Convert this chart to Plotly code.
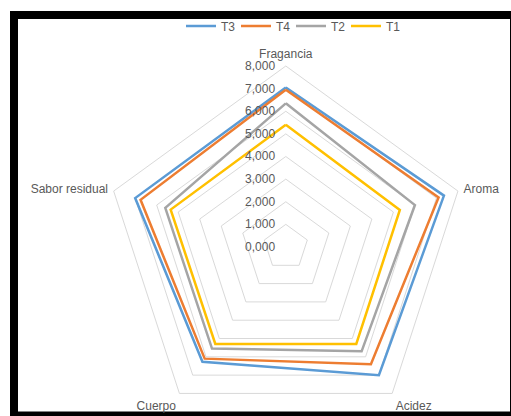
import plotly.graph_objects as go

categories = ["Fragancia", "Aroma", "Acidez", "Cuerpo", "Sabor residual"]
series_names = ["T3", "T4", "T2", "T1"]
t3 = [7.05, 7.35, 7.00, 6.27, 7.00]
t4 = [6.95, 7.10, 6.40, 6.10, 6.75]
t2 = [6.35, 6.00, 5.70, 5.55, 5.60]
t1 = [5.40, 5.30, 5.30, 5.30, 5.35]
colors = ["#5B9BD5", "#ED7D31", "#A5A5A5", "#FFC000"]
radial_ticks = [0, 1, 2, 3, 4, 5, 6, 7, 8]

W, H = 511, 446  # figure slightly taller than window; bottom part cropped
cx, cy, R = 285.8, 247.0, 181.0

fig = go.Figure()
for name, vals, col in zip(series_names, [t3, t4, t2, t1], colors):
    fig.add_trace(go.Scatterpolar(
        r=vals + vals[:1], theta=categories + categories[:1],
        mode="lines", name=name,
        line=dict(color=col, width=2.5),
    ))

def fx(px):
    return px / W

def fy(py):
    return (H - py) / H

fig.update_layout(
    width=W, height=H,
    margin=dict(l=0, r=0, t=0, b=0),
    paper_bgcolor="white",
    separators=",.",
    font=dict(family="Liberation Sans", size=12, color="#595959"),
    showlegend=True,
    legend=dict(orientation="h", x=fx(181), y=fy(26), xanchor="left", yanchor="middle",
                font=dict(size=12, color="#595959"), bgcolor="rgba(0,0,0,0)",
                itemwidth=30, entrywidth=10, entrywidthmode="pixels", tracegroupgap=0),
    polar=dict(
        domain=dict(x=[fx(cx - R), fx(cx + R)], y=[fy(cy + R), fy(cy - R)]),
        bgcolor="rgba(0,0,0,0)",
        gridshape="linear",
        radialaxis=dict(range=[0, 8], tickvals=radial_ticks, tickformat=".3f",
                        angle=90, side="counterclockwise", tickangle=90,
                        showline=False, ticks="outside", ticklen=6,
                        tickcolor="rgba(0,0,0,0)", gridcolor="#D9D9D9", gridwidth=1,
                        tickfont=dict(size=12, color="#595959")),
        angularaxis=dict(rotation=90, direction="clockwise", showgrid=False,
                         showline=True, linecolor="#D9D9D9", linewidth=1,
                         ticks="outside", ticklen=3, tickcolor="rgba(0,0,0,0)",
                         tickfont=dict(size=12, color="#595959")),
    ),
    shapes=[
        dict(type="rect", xref="paper", yref="paper", layer="below",
             x0=fx(10), x1=fx(520), y0=fy(430), y1=fy(11),
             fillcolor="black", line=dict(width=0)),
        dict(type="rect", xref="paper", yref="paper", layer="below",
             x0=fx(18), x1=fx(510), y0=fy(411.5), y1=fy(19),
             fillcolor="white", line=dict(width=0)),
    ],
)

fig.write_html("out.html",
               post_script="document.body.style.margin='0';document.body.style.overflow='hidden';document.documentElement.style.overflow='hidden';")
